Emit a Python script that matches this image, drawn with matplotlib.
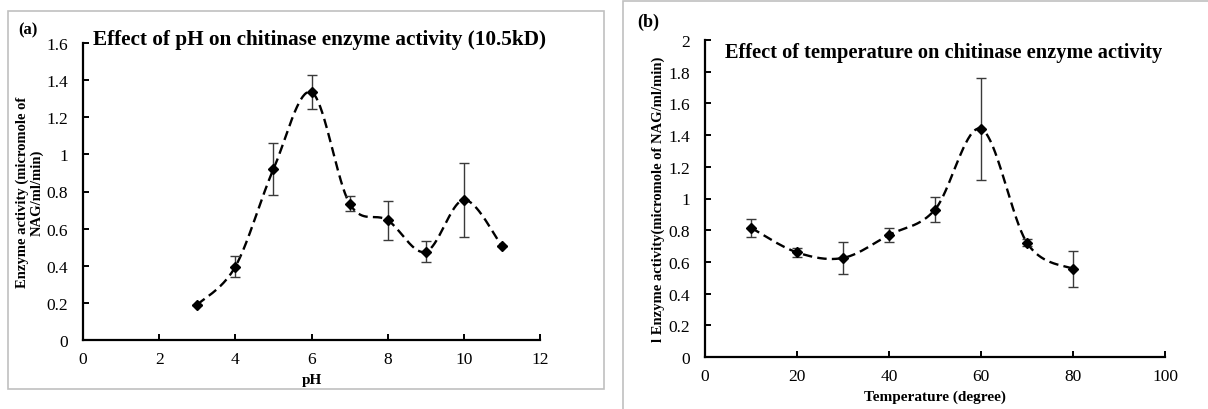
import numpy as np
import matplotlib
matplotlib.use("Agg")
from matplotlib import pyplot as plt
from matplotlib.patches import Rectangle

# panel (a): pH
ph = [3, 4, 5, 6, 7, 8, 9, 10, 11]
ph_activity = [0.19, 0.395, 0.92, 1.335, 0.735, 0.645, 0.475, 0.755, 0.505]
ph_err = [0.0, 0.055, 0.14, 0.093, 0.04, 0.105, 0.057, 0.2, 0.0]

# panel (b): temperature
temp = [10, 20, 30, 40, 50, 60, 70, 80]
temp_activity = [0.815, 0.66, 0.625, 0.77, 0.93, 1.44, 0.72, 0.555]
temp_err = [0.055, 0.03, 0.103, 0.047, 0.08, 0.322, 0.022, 0.112]

serif = ["Liberation Serif", "DejaVu Serif"]
plt.rcParams["font.family"] = serif


def smooth(x, y, n=40):
    # excel-like smoothed line: bezier segments with catmull-rom control points
    x = np.asarray(x, float)
    y = np.asarray(y, float)
    px = np.concatenate([[x[0]], x, [x[-1]]])
    py = np.concatenate([[y[0]], y, [y[-1]]])
    t = np.linspace(0, 1, n)[:, None]
    xs, ys = [], []
    for i in range(1, len(px) - 2):
        p0 = np.array([px[i], py[i]])
        p3 = np.array([px[i + 1], py[i + 1]])
        c1 = p0 + (np.array([px[i + 1], py[i + 1]]) - np.array([px[i - 1], py[i - 1]])) / 6
        c2 = p3 - (np.array([px[i + 2], py[i + 2]]) - np.array([px[i], py[i]])) / 6
        pts = ((1 - t) ** 3) * p0 + 3 * ((1 - t) ** 2) * t * c1 + 3 * (1 - t) * t ** 2 * c2 + t ** 3 * p3
        xs.append(pts[:, 0])
        ys.append(pts[:, 1])
    return np.concatenate(xs), np.concatenate(ys)


def panel(ax, x, y, err, xlim, xticks, ylim, yticks, ytick_labels):
    sx, sy = smooth(x, y)
    ax.plot(sx, sy, color="black", lw=1.7, ls=(0, (4, 2.2)), zorder=2)
    ax.errorbar(x, y, yerr=err, fmt="none", ecolor="#3a3a3a", elinewidth=1,
                capsize=3.5, capthick=1, zorder=3)
    ax.plot(x, y, ls="none", marker="D", ms=5, color="black", zorder=4)
    ax.set_xlim(*xlim)
    ax.set_ylim(*ylim)
    ax.set_xticks(xticks)
    ax.set_yticks(yticks)
    ax.set_yticklabels(ytick_labels)
    for s in ["top", "right"]:
        ax.spines[s].set_visible(False)
    for s in ["left", "bottom"]:
        ax.spines[s].set_linewidth(1.6)
    ax.tick_params(direction="in", length=4, width=1.4, labelsize=12.5, pad=8)
    ax.tick_params(axis="y", pad=11)


fig = plt.figure(figsize=(12.08, 4.10), dpi=100)

# frames
fig.patches.append(Rectangle((8 / 1208, 1 - 390 / 410), 596 / 1208, 378 / 410,
                             transform=fig.transFigure, fill=False,
                             edgecolor="#c0c0c0", lw=1.2))
fig.patches.append(Rectangle((623 / 1208, -0.05), 0.6, 1.05 - 1.5 / 410,
                             transform=fig.transFigure, fill=False,
                             edgecolor="#c0c0c0", lw=1.2))

ax1 = fig.add_axes([83 / 1208, 1 - 341 / 410, 457 / 1208, 297 / 410])
panel(ax1, ph, ph_activity, ph_err, (0, 12), range(0, 13, 2), (0, 1.6),
      np.arange(0, 1.61, 0.2), ["0", "0.2", "0.4", "0.6", "0.8", "1", "1.2", "1.4", "1.6"])
ax1.set_xlabel("pH", fontweight="bold", fontsize=11, labelpad=4)
ax1.set_ylabel("Enzyme activity (micromole of\nNAG/ml/min)", fontweight="bold",
               fontsize=10.5, linespacing=1.1, va="center")
ax1.yaxis.set_label_coords(-0.116, 0.5)
fig.text(18 / 1208, 1 - 30 / 410, "(a)", fontweight="bold", fontsize=12, va="center")
fig.text(93 / 1208, 1 - 40 / 410, "Effect of pH on chitinase enzyme activity (10.5kD)",
         fontweight="bold", fontsize=15.3, va="center")

ax2 = fig.add_axes([705 / 1208, 1 - 358 / 410, 460 / 1208, 317 / 410])
panel(ax2, temp, temp_activity, temp_err, (0, 100), range(0, 101, 20), (0, 2),
      np.arange(0, 2.01, 0.2), ["0", "0.2", "0.4", "0.6", "0.8", "1", "1.2", "1.4", "1.6", "1.8", "2"])
ax2.set_xlabel("Temperature (degree)", fontweight="bold", fontsize=11, labelpad=4)
ax2.set_ylabel("l Enzyme activity(micromole of NAG/ml/min)", fontweight="bold",
               fontsize=10.5, va="center")
ax2.yaxis.set_label_coords(-0.102, 0.5)
fig.text(637 / 1208, 1 - 22 / 410, "(b)", fontweight="bold", fontsize=13, va="center")
fig.text(725 / 1208, 1 - 53 / 410, "Effect of temperature on chitinase enzyme activity",
         fontweight="bold", fontsize=14.7, va="center")

fig.savefig("out.png", dpi=100)
